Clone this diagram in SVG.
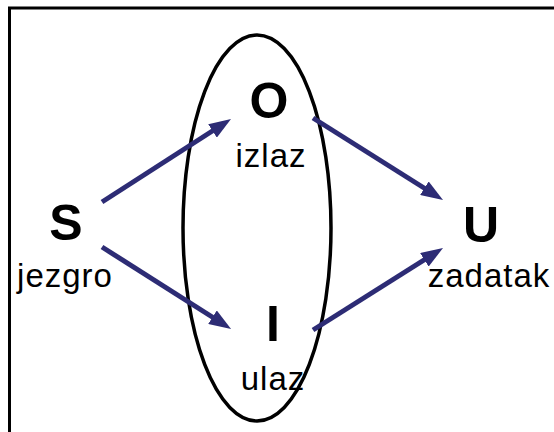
<svg xmlns="http://www.w3.org/2000/svg" width="554" height="432" viewBox="0 0 554 432">
  <style>
    .frame { fill: #ffffff; stroke: #000000; stroke-width: 3; }
    .ring { fill: none; stroke: #000000; stroke-width: 3.5; }
    .big { font-family: "Liberation Sans", Arial, sans-serif; font-weight: bold; font-size: 50px; fill: #000000; text-anchor: middle; }
    .sub { font-family: "Liberation Sans", Arial, sans-serif; font-size: 33px; letter-spacing: 1px; fill: #000000; text-anchor: middle; }
    .edge { stroke: #2d2c75; stroke-width: 5; fill: none; marker-end: url(#head); }
  </style>
  <defs>
    <marker id="head" viewBox="0 0 22 16" refX="9" refY="8" markerWidth="22" markerHeight="16" markerUnits="userSpaceOnUse" orient="auto">
      <path d="M0,0 L22,8 L0,16 z" fill="#2d2c75"/>
    </marker>
  </defs>

  <rect class="frame" x="9.5" y="8" width="600" height="500"/>

  <g id="ring">
    <ellipse class="ring" cx="257" cy="228" rx="74" ry="193"/>
  </g>

  <g id="connectors">
    <line class="edge" x1="102" y1="202" x2="220.1" y2="126"/>
    <line class="edge" x1="102" y1="247" x2="220.1" y2="322"/>
    <line class="edge" x1="313" y1="118" x2="432" y2="193"/>
    <line class="edge" x1="313" y1="330" x2="432" y2="255"/>
  </g>

  <g id="node-S">
    <text class="big" x="66" y="240">S</text>
    <text class="sub" x="65" y="287">jezgro</text>
  </g>
  <g id="node-O">
    <text class="big" x="269" y="118">O</text>
    <text class="sub" x="271" y="167">izlaz</text>
  </g>
  <g id="node-I">
    <text class="big" x="273" y="341">I</text>
    <text class="sub" x="273" y="390">ulaz</text>
  </g>
  <g id="node-U">
    <text class="big" x="481" y="242">U</text>
    <text class="sub" x="489" y="287">zadatak</text>
  </g>
</svg>
